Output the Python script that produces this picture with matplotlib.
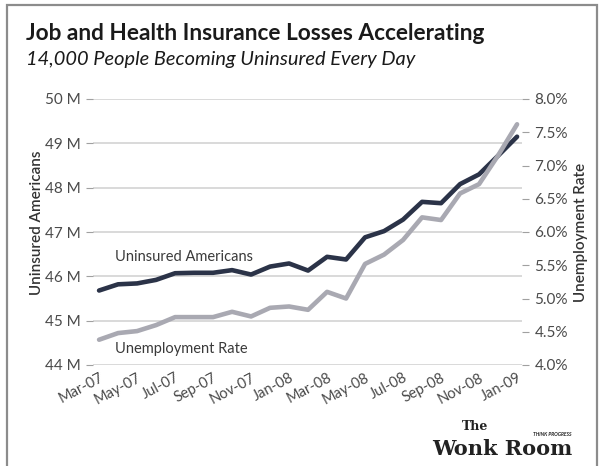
import matplotlib.pyplot as plt
from matplotlib.patches import Rectangle

# monthly data, Mar-07 .. Jan-09
months = ['Mar-07', 'Apr-07', 'May-07', 'Jun-07', 'Jul-07', 'Aug-07', 'Sep-07',
          'Oct-07', 'Nov-07', 'Dec-07', 'Jan-08', 'Feb-08', 'Mar-08', 'Apr-08',
          'May-08', 'Jun-08', 'Jul-08', 'Aug-08', 'Sep-08', 'Oct-08', 'Nov-08',
          'Dec-08', 'Jan-09']
uninsured = [45.68, 45.82, 45.84, 45.92, 46.07, 46.08, 46.08, 46.14, 46.04, 46.22,
             46.29, 46.13, 46.44, 46.38, 46.88, 47.02, 47.28, 47.68, 47.65, 48.08,
             48.30, 48.72, 49.15]  # millions
unemployment = [4.38, 4.48, 4.51, 4.60, 4.72, 4.72, 4.72, 4.80, 4.73, 4.86,
                4.88, 4.83, 5.10, 5.00, 5.52, 5.66, 5.88, 6.22, 6.18, 6.58,
                6.72, 7.15, 7.62]  # percent
left_ticks = [44, 45, 46, 47, 48, 49, 50]
right_ticks = [4.0, 4.5, 5.0, 5.5, 6.0, 6.5, 7.0, 7.5, 8.0]

plt.rcParams['font.family'] = ['Lato', 'DejaVu Sans']

W, H = 602, 466
fig = plt.figure(figsize=(W / 100, H / 100), dpi=100)
fig.patch.set_facecolor('white')

ax = fig.add_axes([93 / W, 1 - 365 / H, 429 / W, 266 / H])
ax2 = ax.twinx()

x = list(range(len(months)))
ax.plot(x, uninsured, color='#2b3348', lw=3.3, solid_joinstyle='round',
        solid_capstyle='round', zorder=3)
ax2.plot(x, unemployment, color='#a9a9b2', lw=3.3, solid_joinstyle='round',
         solid_capstyle='round', zorder=2)

ax.set_xlim(-0.32, 22.26)
ax.set_ylim(44, 50)
ax2.set_ylim(4, 8)

ax.set_yticks(left_ticks)
ax.set_yticklabels([f'{v} M' for v in left_ticks])
ax2.set_yticks(right_ticks)
ax2.set_yticklabels([f'{v:.1f}%' for v in right_ticks])
ax.set_xticks(x[::2])
ax.set_xticklabels(months[::2], rotation=28, ha='right', rotation_mode='anchor')

ax.grid(axis='y', color='#cfcfcf', lw=1.1)
ax.set_axisbelow(True)
for a in (ax, ax2):
    for s in a.spines.values():
        s.set_visible(False)
ax.tick_params(axis='y', length=5, color='#a0a0a0', labelsize=11,
               labelcolor='#4a4a4a', pad=4)
ax2.tick_params(axis='y', length=5, color='#a0a0a0', labelsize=11,
                labelcolor='#4a4a4a', pad=4)
ax.tick_params(axis='x', length=0, labelsize=10.5, labelcolor='#4a4a4a', pad=4)

# series labels
ax.text(0.051, 0.406, 'Uninsured Americans', transform=ax.transAxes,
        fontsize=10.5, color='#3a3a3a', va='center', ha='left')
ax.text(0.051, 0.06, 'Unemployment Rate', transform=ax.transAxes,
        fontsize=10.5, color='#3a3a3a', va='center', ha='left')

# axis titles
fig.text(37 / W, 1 - 223 / H, 'Uninsured Americans', rotation=90,
         ha='center', va='center', fontsize=11, color='#333333', fontweight='semibold')
fig.text(581 / W, 1 - 232 / H, 'Unemployment Rate', rotation=90,
         ha='center', va='center', fontsize=11, color='#333333', fontweight='semibold')

# titles
fig.text(26 / W, 1 - 34 / H, 'Job and Health Insurance Losses Accelerating',
         fontsize=16.3, fontweight='bold', color='#1a1a1a', va='center', ha='left')
fig.text(26 / W, 1 - 59 / H, '14,000 People Becoming Uninsured Every Day',
         fontsize=14.4, fontstyle='italic', color='#1a1a1a', va='center', ha='left')

# logo
fig.text(432 / W, 1 - 449 / H, 'Wonk Room', family='DejaVu Serif',
         fontweight='bold', fontsize=15, color='#222222', va='center', ha='left')
fig.text(462 / W, 1 - 427 / H, 'The', family='DejaVu Serif',
         fontweight='bold', fontsize=9, color='#222222', va='center', ha='left')
fig.text(533 / W, 1 - 434 / H, 'THINK PROGRESS', fontsize=3.5,
         fontweight='bold', fontstyle='italic', color='#222222', va='center', ha='left')

# outer frame
fig.patches.append(Rectangle((7 / W, -0.05), 590 / W, 1.05 - 5 / H,
                             transform=fig.transFigure, fill=False,
                             ec='#8c8c8c', lw=1.6))

fig.savefig('out.png', dpi=100)
